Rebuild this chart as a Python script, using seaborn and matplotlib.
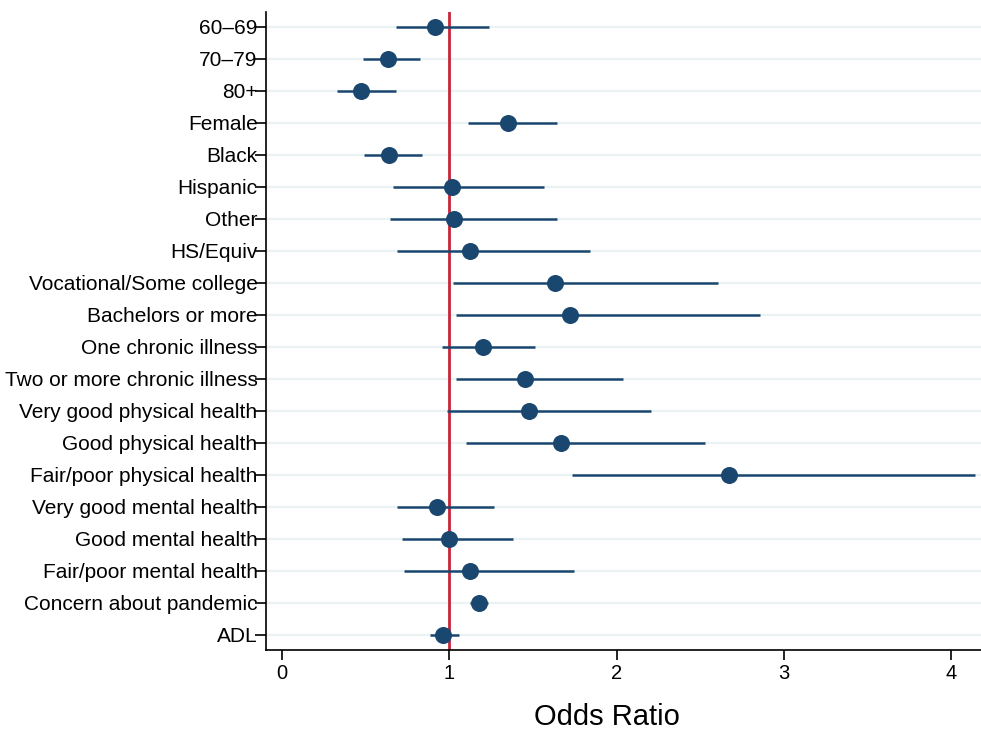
import pandas as pd
import matplotlib.pyplot as plt
import seaborn as sns

# odds ratios and 95% CIs
labels = ["60\u201369", "70\u201379", "80+", "Female", "Black", "Hispanic", "Other",
          "HS/Equiv", "Vocational/Some college", "Bachelors or more",
          "One chronic illness", "Two or more chronic illness",
          "Very good physical health", "Good physical health",
          "Fair/poor physical health", "Very good mental health",
          "Good mental health", "Fair/poor mental health",
          "Concern about pandemic", "ADL"]
odds = [0.916, 0.632, 0.470, 1.349, 0.640, 1.018, 1.030, 1.124, 1.630, 1.720,
        1.200, 1.455, 1.475, 1.666, 2.672, 0.929, 0.998, 1.124, 1.177, 0.965]
ci_lo = [0.680, 0.485, 0.327, 1.110, 0.492, 0.664, 0.646, 0.690, 1.024, 1.038,
         0.956, 1.042, 0.986, 1.102, 1.732, 0.685, 0.720, 0.729, 1.124, 0.888]
ci_hi = [1.236, 0.825, 0.680, 1.646, 0.835, 1.564, 1.642, 1.843, 2.604, 2.857,
         1.512, 2.038, 2.206, 2.526, 4.142, 1.265, 1.383, 1.745, 1.234, 1.058]

df = pd.DataFrame({"label": labels, "OR": odds, "lo": ci_lo, "hi": ci_hi})

sns.set_style("white")
plt.rcParams['font.family'] = ['Liberation Sans', 'DejaVu Sans']
plt.rcParams['text.color'] = 'black'
plt.rcParams['axes.labelcolor'] = 'black'
plt.rcParams['xtick.color'] = 'black'
plt.rcParams['ytick.color'] = 'black'

navy = "#1A476F"
fig = plt.figure(figsize=(9.81, 7.31), dpi=100)
ax = fig.add_axes([0.271, 0.111, 0.729, 0.873])

ax.grid(axis="y", color="#EAF2F3", linewidth=1.6, zorder=0)
ax.axvline(1, color="#C8243A", linewidth=2.0, zorder=2)
ax.hlines(df["label"], df["lo"], df["hi"], color=navy, linewidth=1.8, zorder=3)
sns.scatterplot(data=df, x="OR", y="label", color=navy, s=150, edgecolor=navy,
                linewidth=0, zorder=4, ax=ax)

ax.set_xlim(-0.096, 4.178)
ax.set_ylim(len(labels) - 1 + 0.47, -0.47)
ax.set_xticks([0, 1, 2, 3, 4])
ax.set_ylabel("")
ax.set_xlabel("Odds Ratio", fontsize=21)
ax.xaxis.label.set_va("baseline")
ax.xaxis.set_label_coords(0.477, -0.117)

for s in ["top", "right"]:
    ax.spines[s].set_visible(False)
for s in ["left", "bottom"]:
    ax.spines[s].set_color("black")
    ax.spines[s].set_linewidth(1.2)

# Stata-style: long labels run into the tick marks
ax.tick_params(axis="y", left=True, length=8, width=1.2, labelsize=15, pad=-2)
ax.tick_params(axis="x", bottom=True, length=7.5, width=1.2, labelsize=14.5, pad=3)

fig.savefig("out.png", dpi=100)
